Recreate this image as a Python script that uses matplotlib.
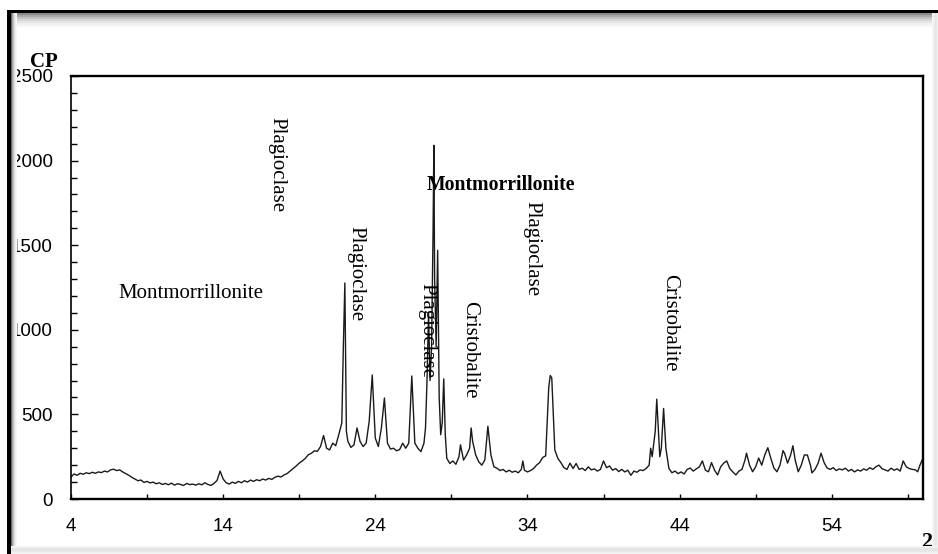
import matplotlib
matplotlib.use("Agg")
import matplotlib.pyplot as plt
from matplotlib.patches import Rectangle
from matplotlib.ticker import MultipleLocator, FixedLocator

two_theta = [
    4.0, 4.2, 4.4, 4.6, 4.8, 5.0, 5.2, 5.4, 5.6, 5.8, 6.0, 6.2, 6.4, 6.6, 6.8, 7.0, 7.2, 7.4, 7.6, 7.8,
    8.0, 8.2, 8.4, 8.6, 8.8, 9.0, 9.2, 9.4, 9.6, 9.8, 10.0, 10.2, 10.4, 10.6, 10.8, 11.0, 11.2, 11.4,
    11.6, 11.8, 12.0, 12.2, 12.4, 12.6, 12.8, 13.0, 13.2, 13.4, 13.6, 13.8, 14.0, 14.2, 14.4, 14.6,
    14.8, 15.0, 15.2, 15.4, 15.6, 15.8, 16.0, 16.2, 16.4, 16.6, 16.8, 17.0, 17.2, 17.4, 17.6, 17.8,
    18.0, 18.2, 18.4, 18.6, 18.8, 19.0, 19.2, 19.4, 19.6, 19.8, 20.0, 20.2, 20.4, 20.6, 20.8, 21.0,
    21.2, 21.4, 21.6, 21.8, 21.9, 22.0, 22.1, 22.2, 22.4, 22.6, 22.8, 23.0, 23.2, 23.4, 23.6, 23.8,
    24.0, 24.2, 24.4, 24.6, 24.8, 25.0, 25.2, 25.4, 25.6, 25.8, 26.0, 26.2, 26.4, 26.6, 26.8, 27.0,
    27.2, 27.3, 27.4, 27.5, 27.6, 27.7, 27.8, 27.85, 27.9, 28.0, 28.1, 28.2, 28.3, 28.4, 28.5, 28.6,
    28.7, 28.9, 29.1, 29.3, 29.5, 29.6, 29.8, 30.0, 30.2, 30.3, 30.4, 30.6, 30.8, 31.0, 31.2, 31.4,
    31.6, 31.8, 32.0, 32.2, 32.4, 32.6, 32.8, 33.0, 33.2, 33.4, 33.6, 33.7, 33.8, 34.0, 34.2, 34.4,
    34.6, 34.8, 35.0, 35.2, 35.4, 35.5, 35.6, 35.8, 36.0, 36.2, 36.4, 36.6, 36.8, 37.0, 37.2, 37.4,
    37.6, 37.8, 38.0, 38.2, 38.4, 38.6, 38.8, 39.0, 39.2, 39.4, 39.6, 39.8, 40.0, 40.2, 40.4, 40.6,
    40.8, 41.0, 41.2, 41.4, 41.6, 41.8, 42.0, 42.1, 42.2, 42.4, 42.5, 42.6, 42.7, 42.8, 42.95, 43.1,
    43.3, 43.5, 43.7, 43.9, 44.1, 44.3, 44.5, 44.7, 44.9, 45.1, 45.3, 45.5, 45.7, 45.9, 46.1, 46.3,
    46.5, 46.7, 46.9, 47.1, 47.3, 47.5, 47.7, 47.9, 48.1, 48.3, 48.4, 48.6, 48.8, 49.0, 49.2, 49.4,
    49.6, 49.8, 50.0, 50.2, 50.4, 50.6, 50.8, 50.9, 51.1, 51.3, 51.45, 51.6, 51.8, 52.0, 52.2, 52.4,
    52.6, 52.7, 52.9, 53.1, 53.3, 53.5, 53.7, 53.9, 54.1, 54.3, 54.5, 54.7, 54.9, 55.1, 55.3, 55.5,
    55.7, 55.9, 56.1, 56.3, 56.5, 56.7, 56.9, 57.1, 57.3, 57.5, 57.7, 57.9, 58.1, 58.3, 58.5, 58.7,
    58.9, 59.1, 59.3, 59.5, 59.65, 59.8, 60.0,
]

counts = [
    130, 148, 140, 152, 146, 155, 150, 158, 152, 160, 156, 165, 160, 172, 176, 168, 172, 160, 150, 140,
    128, 118, 108, 112, 98, 104, 95, 100, 90, 96, 86, 92, 84, 94, 82, 90, 86, 80,
    92, 85, 88, 82, 90, 84, 96, 86, 80, 92, 110, 165, 118, 96, 88, 100,
    92, 104, 96, 108, 100, 112, 104, 114, 108, 118, 112, 122, 116, 128, 135, 130,
    142, 150, 165, 180, 195, 212, 225, 240, 262, 270, 285, 282, 310, 375, 300, 290,
    330, 315, 380, 450, 900, 1277, 400, 340, 305, 320, 420, 340, 310, 330, 460, 733,
    360, 310, 420, 597, 330, 295, 300, 285, 292, 330, 300, 330, 727, 330, 300, 280,
    330, 420, 700, 1100, 700, 900, 1600, 2090, 1300, 900, 1470, 600, 380, 450, 710, 380,
    240, 210, 225, 205, 250, 320, 230, 260, 300, 420, 340, 260, 220, 200, 230, 430,
    260, 190, 182, 168, 175, 160, 170, 158, 165, 155, 175, 225, 170, 160, 168, 180,
    200, 215, 245, 255, 660, 730, 715, 290, 240, 215, 185, 175, 212, 180, 210, 175,
    182, 168, 190, 172, 178, 165, 175, 225, 185, 195, 170, 180, 162, 175, 160, 170,
    140, 165, 158, 172, 168, 180, 200, 300, 250, 400, 590, 420, 250, 300, 535, 300,
    180, 155, 165, 150, 160, 148, 175, 183, 165, 178, 190, 225, 170, 161, 215, 170,
    142, 190, 212, 225, 180, 160, 142, 165, 175, 230, 271, 200, 161, 190, 242, 200,
    260, 303, 240, 183, 161, 200, 286, 270, 212, 260, 315, 230, 161, 200, 260, 260,
    200, 154, 175, 210, 271, 215, 183, 175, 185, 168, 178, 172, 182, 165, 175, 160,
    172, 165, 178, 170, 185, 175, 190, 200, 180, 172, 165, 182, 170, 178, 165, 225,
    190, 180, 175, 172, 161, 200, 242,
]

x_major = [4, 14, 24, 34, 44, 54]
x_minor = [9, 19, 29, 39, 49, 59]
y_major = [0, 500, 1000, 1500, 2000, 2500]

W, H = 938, 554
fig = plt.figure(figsize=(W / 100, H / 100), dpi=100)
fig.patch.set_facecolor("white")

ax = fig.add_axes([71 / W, 1 - 499 / H, (923 - 71) / W, (499 - 76) / H])
ax.plot(two_theta, counts, color="#1a1a1a", lw=1.0)
ax.set_xlim(4, 60)
ax.set_ylim(0, 2500)
ax.xaxis.set_major_locator(FixedLocator(x_major))
ax.xaxis.set_minor_locator(FixedLocator(x_minor))
ax.set_xticklabels([str(v) for v in x_major])
ax.yaxis.set_major_locator(FixedLocator(y_major))
ax.yaxis.set_minor_locator(MultipleLocator(100))
ax.set_yticklabels([str(v) for v in y_major])

for lab in ax.get_xticklabels() + ax.get_yticklabels():
    lab.set_fontfamily("Liberation Sans")
    lab.set_fontsize(13.5)
ax.tick_params(axis="x", which="both", direction="in", length=3.5, width=1.0, pad=13.5)
ax.tick_params(axis="y", which="major", direction="in", length=5, width=1.0, pad=13)
ax.tick_params(axis="y", which="minor", direction="in", length=4, width=1.0)
for side in ["top", "bottom", "right"]:
    ax.spines[side].set_linewidth(1.7)
ax.spines["left"].set_linewidth(1.2)

serif = "Liberation Serif"
ax.text(7.09, 1188, "Montmorrillonite", family=serif, fontsize=15, ha="left", va="baseline")
ax.text(27.36, 1826, "Montmorrillonite", family=serif, fontsize=14.2, fontweight="bold",
        ha="left", va="baseline")
vert = [
    (17.52, 2258, "Plagioclase"),
    (22.75, 1613, "Plagioclase"),
    (27.42, 1277, "Plagioclase"),
    (30.18, 1170, "Cristobalite"),
    (34.30, 1761, "Plagioclase"),
    (43.34, 1330, "Cristobalite"),
]
for xx, yy, s in vert:
    ax.text(xx, yy, s, family=serif, fontsize=15, rotation=270, ha="center", va="top")

fig.text(30 / W, 1 - 67 / H, "CP", family=serif, fontsize=15, fontweight="bold",
         ha="left", va="baseline")
fig.text(921 / W, 1 - 532 / H, "2", family=serif, fontsize=16, fontweight="bold",
         ha="left", va="top")


def rect(x0, y0, w, h, color, z=20):
    fig.add_artist(Rectangle((x0 / W, 1 - (y0 + h) / H), w / W, h / H,
                             transform=fig.transFigure, facecolor=color,
                             edgecolor="none", zorder=z))


# frame shadows
top_grays = ["#8a8a8a", "#a8a8a8", "#c2c2c2", "#d6d6d6", "#e6e6e6", "#f0f0f0", "#f7f7f7"]
for i, c in enumerate(top_grays):
    rect(11, 13 + 2 * i, W - 11, 2, c, z=19)
left_grays = ["#6a6a6a", "#a0a0a0", "#c8c8c8", "#e0e0e0", "#efefef", "#f7f7f7"]
for i, c in enumerate(left_grays):
    rect(11 + i, 13, 1, H - 13, c, z=19)
right_grays = ["#f7f7f7", "#f0f0f0", "#ebebeb", "#e6e6e6", "#e9e9e9", "#f2f2f2"]
for i, c in enumerate(right_grays):
    rect(932 + i, 13, 1, H - 13, c, z=19)
bottom_grays = ["#f5f5f5", "#eeeeee", "#e8e8e8", "#e4e4e4", "#e6e6e6", "#eaeaea", "#efefef", "#f4f4f4"]
for i, c in enumerate(bottom_grays):
    rect(11, 546 + i, W - 11, 1, c, z=21)
# black frame lines
rect(7, 10, W - 7, 3.3, "black", z=22)
rect(7, 10, 4.2, H - 10, "black", z=22)

fig.savefig("out.png", dpi=100, facecolor="white")
